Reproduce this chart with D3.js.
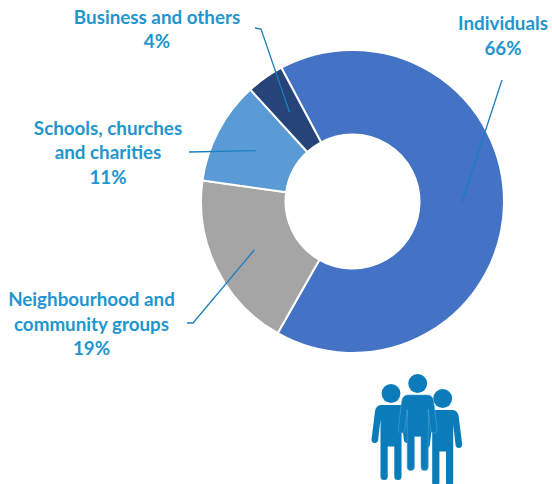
<!DOCTYPE html>
<html>
<head>
<meta charset="utf-8">
<script src="https://cdnjs.cloudflare.com/ajax/libs/d3/7.8.5/d3.min.js"></script>
<style>
	html, body { margin: 0; padding: 0; background: #fff; }
	svg { display: block; }
	text { font-family: Lato, "Open Sans", sans-serif; font-weight: 700; font-size: 18.8px; fill: #1f96cd; text-anchor: middle; }
</style>
</head>
<body>
<svg id="chart" width="552" height="484"></svg>
<script>
var categories = ['Individuals', 'Neighbourhood and community groups', 'Schools, churches and charities', 'Business and others'];
var shares = [66, 19, 11, 4];
var sliceColors = ['#4472c4', '#a5a5a5', '#5b9bd5', '#264478'];
var labelLines = [['Individuals', '66%'], ['Neighbourhood and', 'community groups', '19%'], ['Schools, churches', 'and charities', '11%'], ['Business and others', '4%']];

var svg = d3.select('#chart');
var cx = 352.5, cy = 201.5, rOuter = 151.5, rInner = 67;

var pie = d3.pie().sort(null).startAngle(-28 * Math.PI / 180).endAngle(332 * Math.PI / 180);
var arc = d3.arc().innerRadius(rInner).outerRadius(rOuter);
var slices = pie(shares);

var ring = svg.append('g').attr('transform', 'translate(' + cx + ',' + cy + ')');
ring.selectAll('path').data(slices).enter().append('path')
	.attr('d', arc)
	.attr('fill', function (d, i) { return sliceColors[i]; })
	.attr('stroke', '#fff')
	.attr('stroke-width', 2);

// Labels: centre x and first baseline, per slice
var labelPos = [[503, 30], [91.5, 306], [108, 134.5], [157, 23.5]];
// Leader lines start here and end in the centroid of the slice
var leaderStart = [[[502, 80]], [[187, 323], [193, 323]], [[189, 152]], [[255, 28], [261, 29]]];

var line = d3.line();
slices.forEach(function (d, i) {
	var c = arc.centroid(d);
	var pts = leaderStart[i].concat([[cx + c[0], cy + c[1]]]);
	svg.append('path')
		.attr('d', line(pts))
		.attr('fill', 'none')
		.attr('stroke', '#1b7fbf')
		.attr('stroke-width', 1.3);
	var t = svg.append('text').attr('aria-label', categories[i]);
	labelLines[i].forEach(function (s, k) {
		t.append('tspan')
			.attr('x', labelPos[i][0])
			.attr('y', labelPos[i][1] + k * 24.5)
			.text(s);
	});
});

// People icon
var iconColor = '#0a7cba';
function person (hx, hy, legEnd, outline) {
	var g = svg.append('g').attr('transform', 'translate(' + hx + ',' + hy + ')');
	var body = 'M-10,11.5 H10 Q15,11.5 16,18 L19.5,46 A3.4,3.4 0 0 1 13,47.5 L10.5,26 V' + legEnd +
		' A3.6,3.6 0 0 1 3.3,' + legEnd + ' V53 H-3.3 V' + legEnd + ' A3.6,3.6 0 0 1 -10.5,' + legEnd +
		' V26 L-13,47.5 A3.4,3.4 0 0 1 -19.5,46 L-16,18 Q-15,11.5 -10,11.5 Z';
	g.append('path').attr('d', body).attr('fill', iconColor)
		.attr('stroke', outline ? '#4fa3d3' : 'none').attr('stroke-width', 0.6);
	g.append('circle').attr('r', 9.4).attr('fill', iconColor);
}
person(391, 393.5, 83, false);
person(442.7, 398.5, 84, false);
person(417.7, 383.5, 83.5, true);
</script>
</body>
</html>
